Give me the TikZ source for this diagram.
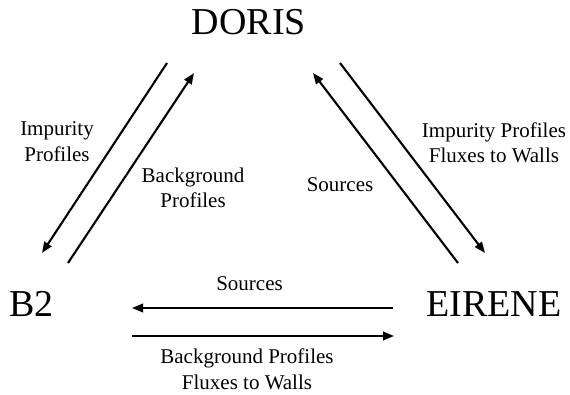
\documentclass[tikz,border=0pt]{standalone}
\usepackage{fontspec}
\setmainfont{Liberation Serif}
\usepackage{tikz}
\usetikzlibrary{arrows.meta, positioning}

\begin{document}
\begin{tikzpicture}[
          x=1pt, y=1pt,
          codenode/.style={inner sep=0pt, anchor=base, font=\fontsize{38}{45}\selectfont},
          flowlabel/.style={inner sep=0pt, align=center, font=\fontsize{21}{25.5}\selectfont},
          arrow/.style={-{Triangle[length=11pt, width=8.5pt]}, line width=2.1pt, draw=black}
        ]
          \useasboundingbox (0,0) rectangle (570,394);

          % Codes
          \node[codenode] (doris) at (249, 359) {DORIS};
          \node[codenode] (b2) at (31.5, 78) {B2};
          \node[codenode] (eirene) at (494, 78) {EIRENE};

          % Arrow end points
          \coordinate (db-s) at (167, 331);  \coordinate (db-e) at (42, 141);
          \coordinate (bd-s) at (68, 131);   \coordinate (bd-e) at (194, 321);
          \coordinate (ed-s) at (458, 131);  \coordinate (ed-e) at (313, 321);
          \coordinate (de-s) at (340, 331);  \coordinate (de-e) at (485, 141);
          \coordinate (eb-s) at (393, 86);   \coordinate (eb-e) at (132, 86);
          \coordinate (be-s) at (132, 58);   \coordinate (be-e) at (394, 58);

          % Connections
          \draw[arrow] (db-s) -- (db-e);
          \draw[arrow] (bd-s) -- (bd-e);
          \draw[arrow] (ed-s) -- (ed-e);
          \draw[arrow] (de-s) -- (de-e);
          \draw[arrow] (eb-s) -- (eb-e);
          \draw[arrow] (be-s) -- (be-e);

          % Exchanged quantities
          \node[flowlabel, anchor=north] (db-lbl) at (57, 272.3) {Impurity\\Profiles};
          \node[flowlabel, anchor=north] (bd-lbl) at (193, 226.3) {Background\\Profiles};
          \node[flowlabel, anchor=base] (ed-lbl) at (340, 202.3) {Sources};
          \node[flowlabel, anchor=north] (de-lbl) at (494, 271.6) {Impurity Profiles\\Fluxes to Walls};
          \node[flowlabel, anchor=base] (eb-lbl) at (249.5, 104) {Sources};
          \node[flowlabel, anchor=north] (be-lbl) at (247, 45) {Background Profiles\\Fluxes to Walls};
        \end{tikzpicture}
\end{document}
